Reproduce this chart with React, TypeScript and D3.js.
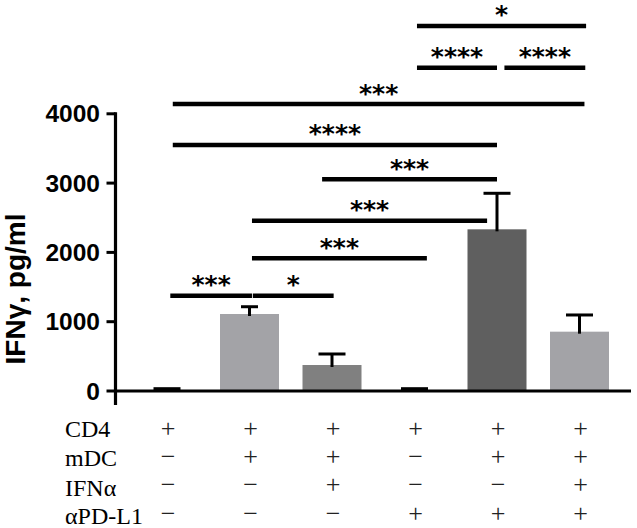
import React from 'react';
import * as d3 from 'd3';

// ---------- data ----------
const groups = ['g1', 'g2', 'g3', 'g4', 'g5', 'g6'];
const means = [55, 1111, 375, 55, 2333, 856];
const errors = [0, 105, 159, 0, 520, 241];
const yTicks = [0, 1000, 2000, 3000, 4000];
const yLabel = 'IFNγ, pg/ml';
const conditionLabels = ['CD4', 'mDC', 'IFNα', 'αPD-L1'];
const conditionSigns = [
  ['+', '+', '+', '+', '+', '+'],
  ['−', '+', '+', '−', '+', '+'],
  ['−', '−', '+', '−', '−', '+'],
  ['−', '−', '−', '+', '+', '+'],
];
// significance brackets (positions in group-index units, level in y units)
const compFrom = [0.04, 1.04, 1.03, 1.03, 1.88, 0.07, 0.07, 3.03, 4.09, 3.03];
const compTo = [1.03, 2.02, 3.15, 3.88, 4.0, 4.0, 5.06, 4.0, 5.07, 5.08];
const compLevel = [1375, 1375, 1915, 2457, 3055, 3550, 4141, 4665, 4665, 5267];
const compStars = ['***', '*', '***', '***', '***', '****', '***', '****', '****', '*'];

// ---------- style ----------
const barColors = ['#000000', '#a3a3a7', '#808080', '#000000', '#5f5f5f', '#a3a3a7'];
const capW = [27, 17, 27, 27, 27, 27];
const W = 637;
const H = 528;

export default function App() {
  const x = d3.scalePoint<string>().domain(groups).range([167, 579.5]);
  const xi = d3.scaleLinear().domain([0, groups.length - 1]).range([167, 579.5]);
  const y = d3.scaleLinear().domain([0, 4000]).range([391, 113.8]);
  const barW = 59;
  const tinyW = 27;
  const axisX = 115.5;
  const sans = "'Liberation Sans', Arial, sans-serif";
  const serif = "'Liberation Serif', 'Times New Roman', serif";
  const starFont = "'DejaVu Sans', sans-serif";

  const labelBase = [437, 466, 495.5, 523.5];
  const signBase = [436.5, 465, 492.5, 522];

  return (
    <div style={{ position: 'absolute', left: 0, top: 0 }}>
      <svg width={W} height={H} style={{ display: 'block', background: '#fff' }}>
        {/* bars */}
        {groups.map((g, i) => {
          const cx = x(g)!;
          const tiny = means[i] < 100;
          const w = tiny ? tinyW : barW;
          return (
            <rect key={'b' + i} x={cx - w / 2} y={y(means[i])} width={w}
              height={y(0) - y(means[i])} fill={barColors[i]} />
          );
        })}
        {/* error bars */}
        {groups.map((g, i) => {
          if (!errors[i]) return null;
          const cx = x(g)!;
          const top = y(means[i] + errors[i]);
          return (
            <g key={'e' + i} stroke="#000" strokeWidth={3}>
              <line x1={cx} x2={cx} y1={y(means[i]) + 2} y2={top} />
              <line x1={cx - capW[i] / 2} x2={cx + capW[i] / 2} y1={top} y2={top} />
            </g>
          );
        })}
        {/* axes */}
        <line x1={axisX} x2={axisX} y1={y(0) + 14} y2={y(4000) - 1.5} stroke="#000" strokeWidth={3.2} />
        <line x1={axisX} x2={631} y1={y(0)} y2={y(0)} stroke="#000" strokeWidth={3.2} />
        {yTicks.map((t) => (
          <g key={'t' + t}>
            <line x1={axisX - 9} x2={axisX} y1={y(t)} y2={y(t)} stroke="#000" strokeWidth={3} />
            <text x={100} y={y(t) + 8.5} textAnchor="end" fontFamily={sans} fontWeight="bold"
              fontSize={24.5} fill="#000">{t}</text>
          </g>
        ))}
        <text transform={`translate(25,289) rotate(-90)`} textAnchor="middle" fontFamily={sans}
          fontWeight="bold" fontSize={28} fill="#000">{yLabel}</text>
        {/* significance brackets */}
        {compFrom.map((f, k) => {
          const x1 = xi(f);
          const x2 = xi(compTo[k]);
          const ly = y(compLevel[k]);
          return (
            <g key={'c' + k}>
              <line x1={x1} x2={x2} y1={ly} y2={ly} stroke="#000" strokeWidth={4.5} />
              <text x={(x1 + x2) / 2} y={ly - 2.5} textAnchor="middle" fontFamily={starFont}
                fontWeight="bold" fontSize={25} fill="#000">{compStars[k]}</text>
            </g>
          );
        })}
        {/* condition table */}
        {conditionLabels.map((lab, r) => (
          <g key={'r' + r}>
            <text x={65} y={labelBase[r]} fontFamily={serif} fontSize={24} fill="#000">{lab}</text>
            {conditionSigns[r].map((s, i) => (
              <text key={'s' + i} x={x(groups[i])! + 1} y={signBase[r]} textAnchor="middle"
                fontFamily={serif} fontSize={26} fill="#222">{s}</text>
            ))}
          </g>
        ))}
      </svg>
    </div>
  );
}
